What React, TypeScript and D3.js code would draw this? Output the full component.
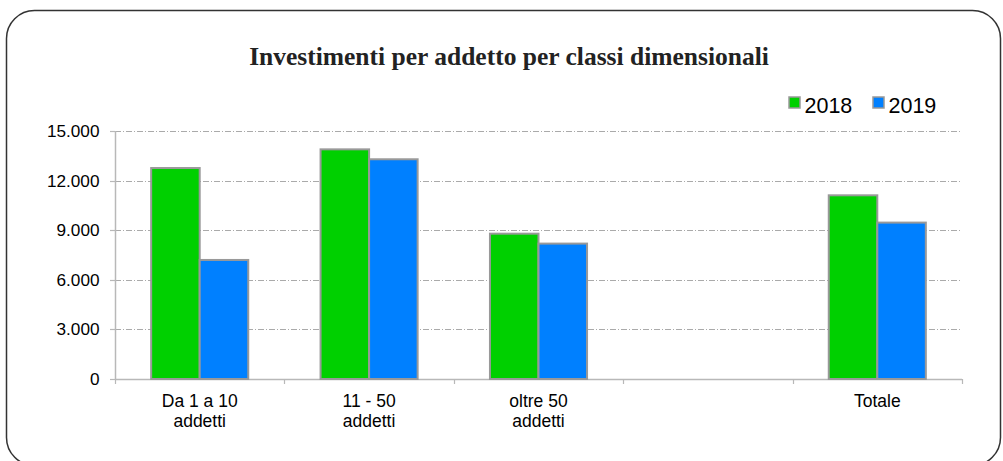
import React from "react";
import * as d3 from "d3";

const categories = ["Da 1 a 10|addetti", "11 - 50|addetti", "oltre 50|addetti", "", "Totale"];
const series = ["2018", "2019"];
const values2018 = [12760, 13890, 8790, null, 11110];
const values2019 = [7200, 13290, 8190, null, 9460];
const yTicks = [0, 3000, 6000, 9000, 12000, 15000];
const colors = ["#00d000", "#0080ff"];

const W = 1003, H = 461;
const left = 115, right = 962, top = 131, bottom = 379;

export default function App() {
  const x = d3.scaleBand<string>().domain(categories.map((c, i) => String(i))).range([left, right]).padding(0);
  const xi = d3.scaleBand<string>().domain(series).range([0, x.bandwidth()]).paddingInner(0).paddingOuter(0.745);
  const y = d3.scaleLinear().domain([0, 15000]).range([bottom, top]);
  const fmt = (v: number) => d3.format(",")(v).replace(/,/g, ".");
  const data = [values2018, values2019];
  const boundaries = d3.range(categories.length + 1).map((i) => left + i * x.step());

  return (
    <svg width={W} height={H} style={{ position: "absolute", left: 0, top: 0, background: "#fff" }}>
      <rect x={6.5} y={10.5} width={994} height={455} rx={28} ry={28} fill="#fff" stroke="#333" strokeWidth={1.5} />
      <text x={509} y={65} textAnchor="middle" fontFamily="'Liberation Serif', 'Times New Roman', serif" fontWeight="bold" fontSize={25.5} fill="#222">
        Investimenti per addetto per classi dimensionali
      </text>
      {/* legend */}
      {series.map((s, i) => {
        const lx = 788 + i * 84;
        return (
          <g key={s}>
            <rect x={lx + 1} y={97} width={11} height={11} fill={colors[i]} stroke="#999" strokeWidth={1.5} />
            <text x={lx + 16.5} y={112.5} fontFamily="'Liberation Sans', Arial, sans-serif" fontSize={21.5} fill="#000">{s}</text>
          </g>
        );
      })}
      {/* grid */}
      {yTicks.filter((t) => t > 0).map((t) => (
        <line key={t} x1={left} x2={right} y1={Math.round(y(t)) + 0.5} y2={Math.round(y(t)) + 0.5} stroke="#aaa" strokeWidth={1} strokeDasharray="6,2,1,2" />
      ))}
      {/* axes */}
      <line x1={left + 0.5} x2={left + 0.5} y1={top} y2={bottom} stroke="#b8b8b8" strokeWidth={1.5} />
      <line x1={left} x2={right} y1={bottom + 0.5} y2={bottom + 0.5} stroke="#b8b8b8" strokeWidth={1.5} />
      {yTicks.map((t) => (
        <g key={t}>
          <line x1={left - 5} x2={left} y1={Math.round(y(t)) + 0.5} y2={Math.round(y(t)) + 0.5} stroke="#b8b8b8" strokeWidth={1.2} />
          <text x={99.5} y={y(t) + 6} textAnchor="end" fontFamily="'Liberation Sans', Arial, sans-serif" fontSize={17.2} fill="#000">{fmt(t)}</text>
        </g>
      ))}
      {boundaries.map((bx, i) => (
        <line key={i} x1={Math.round(bx) + 0.5} x2={Math.round(bx) + 0.5} y1={bottom} y2={bottom + 5} stroke="#b8b8b8" strokeWidth={1.2} />
      ))}
      {/* bars */}
      {categories.map((c, ci) => (
        <g key={ci}>
          {series.map((s, si) => {
            const v = data[si][ci];
            if (v == null) return null;
            const bx = (x(String(ci)) as number) + (xi(s) as number);
            return (
              <rect key={s} x={bx} y={y(v)} width={xi.bandwidth()} height={bottom - y(v)} fill={colors[si]} stroke="#999" strokeWidth={2} />
            );
          })}
          {c.split("|").map((line, li) => (
            <text key={li} x={(x(String(ci)) as number) + x.bandwidth() / 2} y={406.5 + li * 20} textAnchor="middle" fontFamily="'Liberation Sans', Arial, sans-serif" fontSize={17.5} fill="#000">{line}</text>
          ))}
        </g>
      ))}
    </svg>
  );
}
